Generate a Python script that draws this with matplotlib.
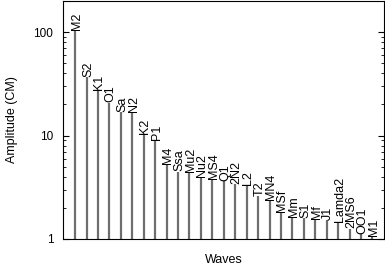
import matplotlib
matplotlib.use("Agg")
import matplotlib.pyplot as plt
from matplotlib.ticker import LogLocator, FixedLocator, NullFormatter

plt.rcParams['font.family'] = ['Liberation Sans', 'DejaVu Sans']

waves = ["M2", "S2", "K1", "O1", "Sa", "N2", "K2", "P1", "M4", "Ssa", "Mu2", "Nu2",
         "MS4", "Q1", "2N2", "L2", "T2", "MN4", "MSf", "Mm", "S1", "Mf", "J1",
         "Lamda2", "2MS6", "OO1", "M1"]
amplitudes = [105, 36.5, 27.5, 20.7, 16.8, 16.6, 10.3, 8.9, 5.27, 4.47, 4.37, 3.91,
              3.77, 3.63, 3.38, 3.32, 2.58, 2.38, 1.80, 1.62, 1.58, 1.56, 1.52,
              1.46, 1.26, 1.11, 1.07]
yticks = [1, 10, 100]
ytick_labels = ["1", "10", "100"]

fig = plt.figure(figsize=(3.85, 2.67), dpi=100)
ax = fig.add_axes([0.164, 0.105, 0.834, 0.891])

x = list(range(len(waves)))
ax.vlines(x, 1, amplitudes, colors='#6e6e6e', linewidth=1.6)
for xi, v, name in zip(x, amplitudes, waves):
    ax.annotate(name, (xi, v), xytext=(1.0, 0.3), textcoords='offset points',
                rotation=90, ha='center', va='bottom', fontsize=9)

ax.set_yscale('log')
ax.set_ylim(1, 200)
ax.set_xlim(-1.05, len(waves) + 0.03)
ax.set_xticks([])
ax.yaxis.set_major_locator(FixedLocator(yticks))
ax.set_yticklabels(ytick_labels)
ax.yaxis.set_minor_locator(LogLocator(base=10, subs=range(2, 10)))
ax.yaxis.set_minor_formatter(NullFormatter())
ax.tick_params(axis='y', which='both', direction='in', right=True, labelsize=8.5, pad=7)
ax.tick_params(axis='y', which='major', length=4)
ax.tick_params(axis='y', which='minor', length=2)
for s in ax.spines.values():
    s.set_linewidth(0.8)

ax.set_xlabel("Waves", fontsize=9, labelpad=11)
ax.set_ylabel("Amplitude (CM)", fontsize=9, labelpad=11)

fig.savefig("out.png", dpi=100)
